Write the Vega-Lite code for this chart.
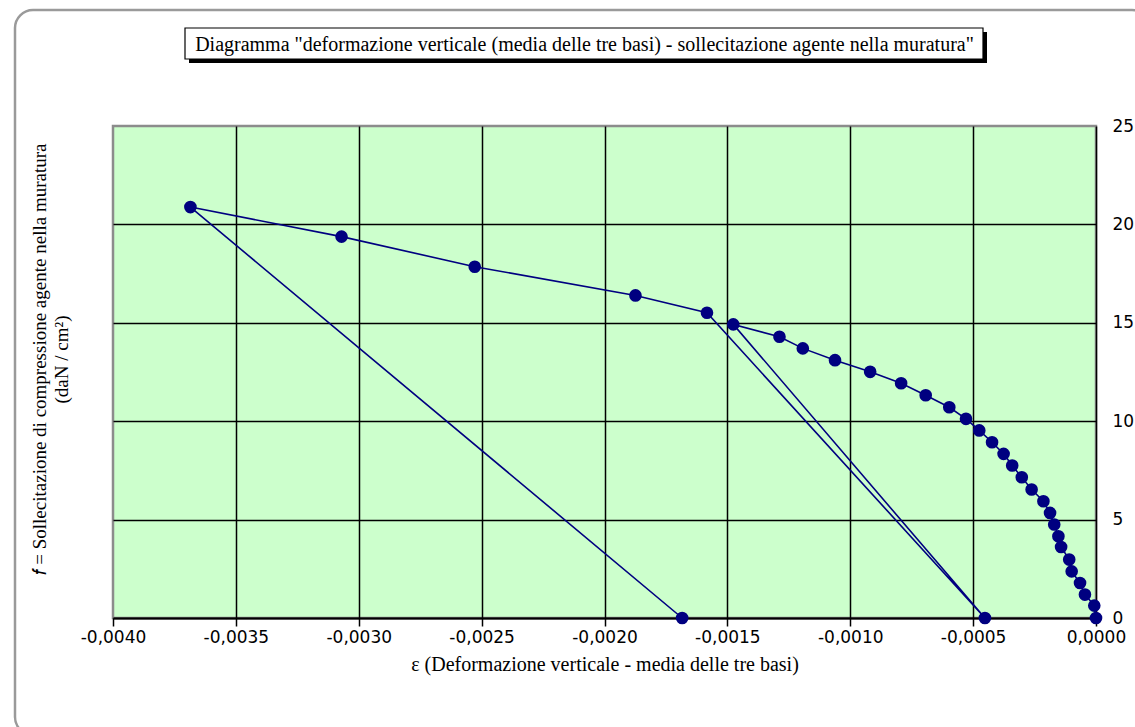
{
  "$schema": "https://vega.github.io/schema/vega-lite/v6.json",
  "autosize": "none",
  "width": 983,
  "height": 492,
  "padding": {"left": 113, "top": 126, "right": 39, "bottom": 109},
  "background": "white",
  "config": {
    "view": {"fill": "#CCFFCC", "stroke": "#8c8c8c", "strokeWidth": 2.5},
    "locale": {"number": {"decimal": ",", "thousands": ".", "grouping": [3], "currency": ["", " €"], "minus": "-"}}
  },
  "data": {
    "values": [
      {"i": 0, "eps": 0, "f": 0},
      {"i": 1, "eps": -0.000007, "f": 0.63},
      {"i": 2, "eps": -0.000045, "f": 1.19},
      {"i": 3, "eps": -0.000065, "f": 1.78},
      {"i": 4, "eps": -0.000099, "f": 2.37},
      {"i": 5, "eps": -0.000109, "f": 2.97},
      {"i": 6, "eps": -0.000142, "f": 3.61},
      {"i": 7, "eps": -0.000153, "f": 4.15},
      {"i": 8, "eps": -0.00017, "f": 4.75},
      {"i": 9, "eps": -0.000187, "f": 5.34},
      {"i": 10, "eps": -0.000214, "f": 5.93},
      {"i": 11, "eps": -0.000262, "f": 6.53},
      {"i": 12, "eps": -0.000302, "f": 7.15},
      {"i": 13, "eps": -0.000341, "f": 7.75},
      {"i": 14, "eps": -0.000376, "f": 8.34},
      {"i": 15, "eps": -0.000423, "f": 8.93},
      {"i": 16, "eps": -0.000475, "f": 9.53},
      {"i": 17, "eps": -0.000529, "f": 10.12},
      {"i": 18, "eps": -0.000597, "f": 10.71},
      {"i": 19, "eps": -0.000693, "f": 11.32},
      {"i": 20, "eps": -0.000793, "f": 11.93},
      {"i": 21, "eps": -0.000919, "f": 12.51},
      {"i": 22, "eps": -0.001062, "f": 13.10},
      {"i": 23, "eps": -0.001193, "f": 13.70},
      {"i": 24, "eps": -0.001288, "f": 14.29},
      {"i": 25, "eps": -0.001476, "f": 14.92},
      {"i": 26, "eps": -0.000452, "f": 0},
      {"i": 27, "eps": -0.001583, "f": 15.51},
      {"i": 28, "eps": -0.001874, "f": 16.39},
      {"i": 29, "eps": -0.002528, "f": 17.85},
      {"i": 30, "eps": -0.00307, "f": 19.38},
      {"i": 31, "eps": -0.003685, "f": 20.88},
      {"i": 32, "eps": -0.001684, "f": 0}
    ]
  },
  "layer": [
    {
      "data": {"values": [{}]},
      "mark": {"type": "rect", "filled": false, "stroke": "#9a9a9a", "strokeWidth": 2.5, "cornerRadius": 18,
               "width": 1135, "height": 725, "xOffset": -513.5, "yOffset": 246.5},
      "encoding": {}
    },
    {
      "data": {"values": [{}]},
      "mark": {"type": "rect", "fill": "black", "width": 798, "height": 31, "xOffset": -508, "yOffset": -78.5},
      "encoding": {}
    },
    {
      "data": {"values": [{}]},
      "mark": {"type": "rect", "fill": "white", "stroke": "black", "strokeWidth": 1.2,
               "width": 798, "height": 31, "xOffset": -512, "yOffset": -82.5},
      "encoding": {}
    },
    {
      "data": {"values": [{"testo": "Diagramma \"deformazione verticale (media delle tre basi) - sollecitazione agente nella muratura\""}]},
      "mark": {"type": "text", "font": "Liberation Serif", "fontSize": 20, "color": "black",
               "align": "center", "baseline": "middle", "dx": -20, "dy": -327},
      "encoding": {"text": {"field": "testo"}}
    },
    {
      "mark": {"type": "line", "color": "#000080", "strokeWidth": 1.6},
      "encoding": {
        "x": {
          "field": "eps", "type": "quantitative",
          "scale": {"domain": [-0.004, 0], "nice": false, "zero": false},
          "axis": {
            "title": "ε  (Deformazione verticale - media delle tre basi)",
            "values": [-0.004, -0.0035, -0.003, -0.0025, -0.002, -0.0015, -0.001, -0.0005, 0],
            "format": ".4f",
            "grid": true, "gridColor": "black", "gridWidth": 1.5,
            "gridOpacity": {"condition": {"test": "datum.value < -0.0039", "value": 0}, "value": 1},
            "domainColor": "black", "domainWidth": 2,
            "tickColor": "black", "tickWidth": 1.5, "tickSize": 8,
            "labelFont": "DejaVu Sans", "labelFontSize": 17, "labelColor": "black",
            "labelPadding": 3, "labelFlush": false, "labelOverlap": false,
            "titleFont": "Liberation Serif", "titleFontSize": 20, "titleFontWeight": "normal",
            "titleColor": "black", "titlePadding": 9
          }
        },
        "y": {
          "field": "f", "type": "quantitative",
          "scale": {"domain": [0, 25], "nice": false},
          "axis": {
            "orient": "right",
            "values": [0, 5, 10, 15, 20, 25],
            "grid": true, "gridColor": "black", "gridWidth": 1.5,
            "gridOpacity": {"condition": {"test": "datum.value > 24", "value": 0}, "value": 1},
            "ticks": false, "tickSize": 0, "domain": false,
            "labelPadding": 16, "labelFont": "DejaVu Sans", "labelFontSize": 17,
            "labelColor": "black", "labelFlush": false,
            "title": ["𝑓 = Sollecitazione di compressione agente nella muratura", "(daN / cm²)"],
            "titleFont": "Liberation Serif", "titleFontSize": 19, "titleFontWeight": "normal",
            "titleColor": "black", "titleAngle": 270, "titleAlign": "center", "titleBaseline": "top",
            "titleX": -1066, "titleY": 233, "titleLineHeight": 22
          }
        },
        "order": {"field": "i", "type": "quantitative"}
      }
    },
    {
      "mark": {"type": "point", "filled": true, "size": 160, "color": "#000080", "opacity": 1},
      "encoding": {
        "x": {"field": "eps", "type": "quantitative"},
        "y": {"field": "f", "type": "quantitative"}
      }
    }
  ]
}
